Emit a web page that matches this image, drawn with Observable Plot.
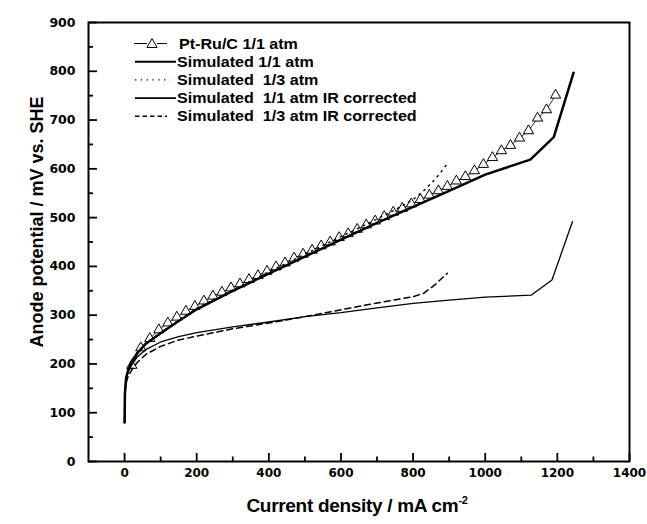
<!DOCTYPE html>
<html><head><meta charset="utf-8">
<script src="https://cdn.jsdelivr.net/npm/d3@7"></script>
<script src="https://cdn.jsdelivr.net/npm/@observablehq/plot@0.6"></script>
<style>body{margin:0;background:#fff;} #chart{width:647px;height:524px;}</style>
</head><body><div id="chart"></div>
<script>
// ---- data ----
const ptruX = [20,45,70,95,120,145,170,195,220,245,270,295,320,345,370,395,420,445,470,495,520,545,570,595,620,645,670,695,720,745,770,795,820,845,870,895,920,945,970,995,1020,1045,1070,1095,1120,1145,1170,1195];
const ptruY = [197,233,252,270,284,296,308,318,329,339,347,356,364,373,381,390,399,407,417,425,433,442,450,459,467,476,485,493,502,511,519,528,537,546,555,564,575,584,596,609,623,637,648,663,678,704,721,751];

const sim11X = [0,1,4,10,20,35,60,100,150,200,300,400,500,600,700,800,900,1000,1125,1190,1245];
const sim11Y = [80,140,170,188,205,222,242,263,288,312,350,385,420,455,489,522,555,588,619,665,797];

const sim13X = [0,1,4,10,20,35,60,100,150,200,300,400,500,600,700,750,800,825,850,875,895];
const sim13Y = [80,140,170,188,206,223,243,264,290,314,352,389,425,461,497,516,537,552,570,591,611];

const ir11X = [0,1,4,10,20,35,60,100,150,200,300,400,500,600,700,800,900,1000,1127,1185,1242];
const ir11Y = [80,140,168,183,198,214,230,245,256,264,276,286,297,305,315,324,331,337,341,372,492];

const ir13X = [0,1,4,10,20,35,60,100,150,200,300,400,500,600,700,800,830,860,895];
const ir13Y = [80,135,160,175,188,203,220,236,249,257,272,284,297,311,325,338,345,362,386];

const xMajor = [0,200,400,600,800,1000,1200,1400];
const xMinor = [100,300,500,700,900,1100,1300];
const yMajor = [0,100,200,300,400,500,600,700,800,900];
const yMinor = [50,150,250,350,450,550,650,750,850];

const legendLabels = ["Pt-Ru/C 1/1 atm","Simulated 1/1 atm","Simulated  1/3 atm","Simulated  1/1 atm IR corrected","Simulated  1/3 atm IR corrected"];

const zip = (xs, ys) => xs.map((x, i) => ({x, y: ys[i]}));
const ptru = zip(ptruX, ptruY), sim11 = zip(sim11X, sim11Y), sim13 = zip(sim13X, sim13Y),
      ir11 = zip(ir11X, ir11Y), ir13 = zip(ir13X, ir13Y);

const W = 647, H = 524, mL = 88, mR = 18, mT = 22, mB = 63;
const frameW = W - mL - mR, frameH = H - mT - mB;
const xDom = [-100, 1400], yDom = [0, 900];
// tick lengths in pixels converted to data units via the scale extents
const xTickLen = px => px * (yDom[1] - yDom[0]) / frameH;
const yTickLen = px => px * (xDom[1] - xDom[0]) / frameW;

const svg = Plot.plot({
  width: W, height: H,
  marginLeft: mL, marginRight: mR, marginTop: mT, marginBottom: mB,
  style: {background: "white", color: "black", fontFamily: "DejaVu Sans", fontSize: "12px", fontWeight: "bold"},
  x: {domain: xDom},
  y: {domain: yDom},
  marks: [
    Plot.axisX({ticks: xMajor, tickSize: 0, tickPadding: 7, label: null, tickFormat: d => String(d), fontWeight: "bold"}),
    Plot.axisY({ticks: yMajor, tickSize: 0, tickPadding: 13, label: null, tickFormat: d => String(d), fontWeight: "bold", fontSize: 12.5}),
    Plot.ruleX(xMajor, {x: d => d, y1: yDom[0], y2: yDom[0] + xTickLen(8), stroke: "black", strokeWidth: 1.8}),
    Plot.ruleX(xMinor, {x: d => d, y1: yDom[0], y2: yDom[0] + xTickLen(4.5), stroke: "black", strokeWidth: 1.8}),
    Plot.ruleY(yMajor, {y: d => d, x1: xDom[0], x2: xDom[0] + yTickLen(9), stroke: "black", strokeWidth: 1.8}),
    Plot.ruleY(yMinor, {y: d => d, x1: xDom[0], x2: xDom[0] + yTickLen(5), stroke: "black", strokeWidth: 1.8}),
    Plot.line(ptru, {x: "x", y: "y", stroke: "black", strokeWidth: 0.8}),
    Plot.dot(ptru, {x: "x", y: "y", symbol: "triangle", r: 3.8, stroke: "black", fill: "white", strokeWidth: 1}),
    Plot.line(sim13, {x: "x", y: "y", stroke: "black", strokeWidth: 1.4, strokeDasharray: "1.4,5", strokeLinecap: "round"}),
    Plot.line(sim11, {x: "x", y: "y", stroke: "black", strokeWidth: 2.5}),
    Plot.line(ir11, {x: "x", y: "y", stroke: "black", strokeWidth: 1.3}),
    Plot.line(ir13, {x: "x", y: "y", stroke: "black", strokeWidth: 1.5, strokeDasharray: "6,4"}),
    Plot.frame({stroke: "black", strokeWidth: 2})
  ]
});

const s = d3.select(svg);
// axis titles
const xt = s.append("text")
  .attr("x", 357).attr("y", 512).attr("text-anchor", "middle")
  .attr("font-family", "Liberation Sans, Arial, sans-serif").attr("font-weight", "bold").attr("font-size", 19)
  .attr("letter-spacing", -0.3).attr("fill", "black");
xt.append("tspan").text("Current density / mA cm");
xt.append("tspan").attr("font-size", 11).attr("dy", -8).text("-2");

s.append("text")
  .attr("transform", "translate(43,222) rotate(-90)").attr("text-anchor", "middle")
  .attr("font-family", "Liberation Sans, Arial, sans-serif").attr("font-weight", "bold").attr("font-size", 18)
  .attr("fill", "black").text("Anode potential / mV vs. SHE");

// legend
const rows = [43.5, 61.7, 79.9, 98.1, 116.3];
const lg = s.append("g").attr("stroke", "black").attr("fill", "none");
lg.append("line").attr("x1", 134).attr("x2", 147).attr("y1", rows[0]).attr("y2", rows[0]).attr("stroke-width", 1);
lg.append("line").attr("x1", 157).attr("x2", 167).attr("y1", rows[0]).attr("y2", rows[0]).attr("stroke-width", 1);
lg.append("path").attr("d", d3.symbol(d3.symbolTriangle, Math.PI * 3.8 * 3.8)()).attr("transform", `translate(152,${rows[0] + 1})`).attr("fill", "white").attr("stroke-width", 1);
lg.append("line").attr("x1", 135).attr("x2", 176).attr("y1", rows[1]).attr("y2", rows[1]).attr("stroke-width", 2);
lg.append("line").attr("x1", 135).attr("x2", 170).attr("y1", rows[2]).attr("y2", rows[2]).attr("stroke-width", 1.3).attr("stroke-dasharray", "1.3,4.5");
lg.append("line").attr("x1", 135).attr("x2", 176).attr("y1", rows[3]).attr("y2", rows[3]).attr("stroke-width", 1.6);
lg.append("line").attr("x1", 135).attr("x2", 167).attr("y1", rows[4]).attr("y2", rows[4]).attr("stroke-width", 1.5).attr("stroke-dasharray", "4.5,3");
legendLabels.forEach((t, i) => {
  s.append("text")
    .attr("transform", `translate(${i === 0 ? 179 : 177},${rows[i]}) scale(1.15,1)`)
    .attr("dy", "0.36em").attr("text-anchor", "start")
    .attr("font-family", "Liberation Sans, Arial, sans-serif").attr("font-weight", "bold").attr("font-size", 14)
    .attr("fill", "black").attr("xml:space", "preserve").style("white-space", "pre").text(t);
});

document.getElementById("chart").appendChild(svg);
</script>
</body></html>
